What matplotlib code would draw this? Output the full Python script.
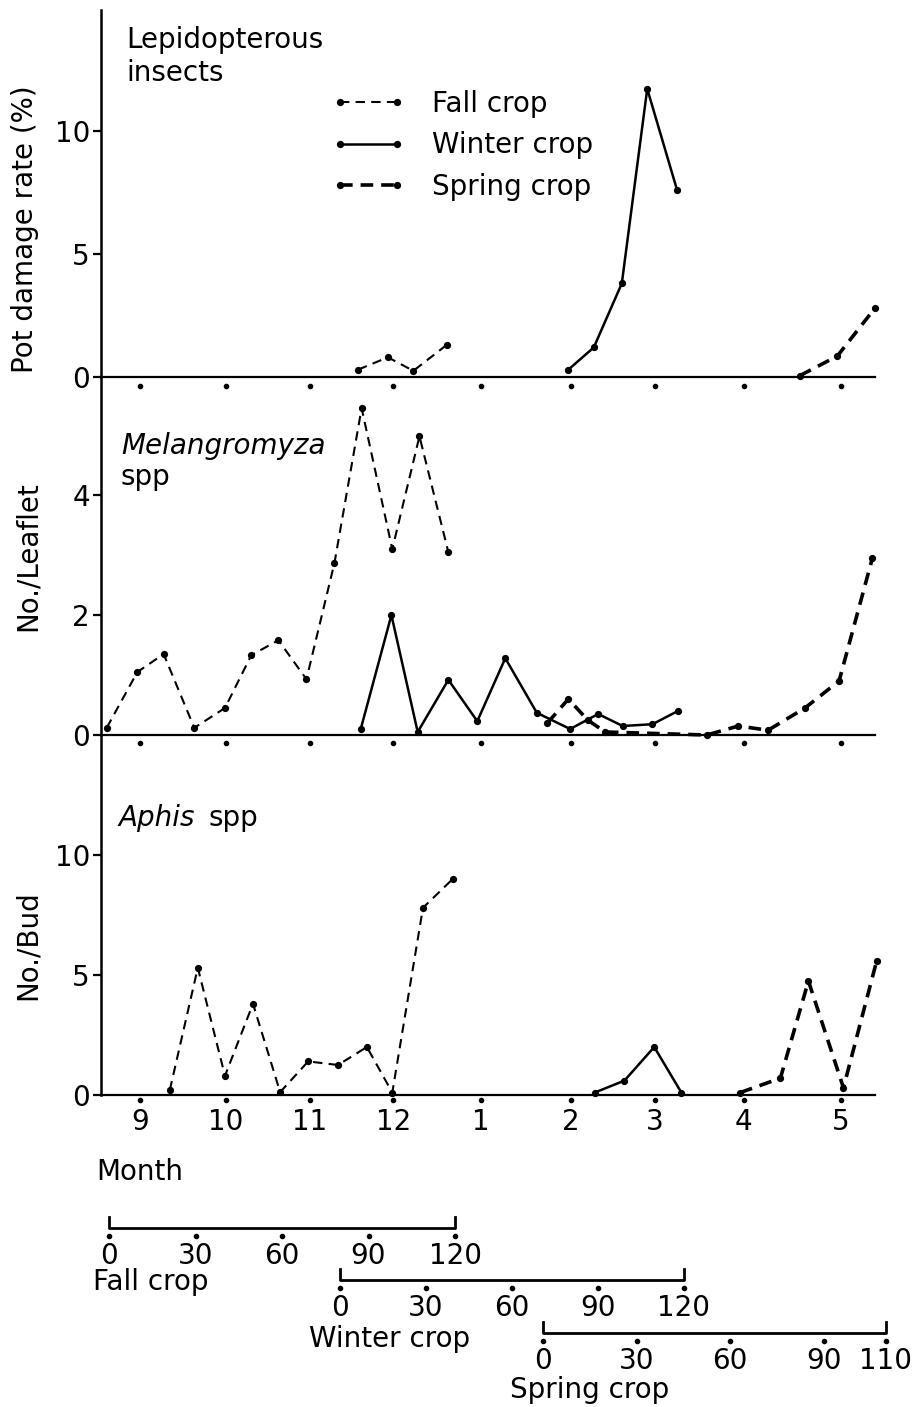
import matplotlib
matplotlib.use("Agg")
import matplotlib.pyplot as plt
from matplotlib.lines import Line2D

W, H = 924, 1407
plt.rcParams['font.family'] = ['DejaVu Sans']

# ---------------- data (x = month index: 0 = Sep, 1 = Oct, ... 8 = May) ----------------
month_pos = [0, 0.98, 1.94, 2.89, 3.89, 4.92, 5.88, 6.89, 8.0]
month_labels = ['9', '10', '11', '12', '1', '2', '3', '4', '5']

# Lepidopterous insects: pot damage rate (%)
lep_fall_x = [2.49, 2.83, 3.12, 3.50]
lep_fall_y = [0.3, 0.8, 0.25, 1.3]
lep_winter_x = [4.89, 5.18, 5.50, 5.79, 6.13]
lep_winter_y = [0.3, 1.2, 3.8, 11.7, 7.6]
lep_spring_x = [7.53, 7.96, 8.39]
lep_spring_y = [0.05, 0.85, 2.8]

# Melangromyza spp: No./Leaflet
mel_fall_x = [-0.38, -0.03, 0.27, 0.62, 0.97, 1.27, 1.58, 1.90, 2.22, 2.53, 2.88, 3.19, 3.52]
mel_fall_y = [0.12, 1.05, 1.35, 0.12, 0.45, 1.33, 1.58, 0.93, 2.87, 5.45, 3.1, 4.98, 3.05]
mel_winter_x = [2.52, 2.87, 3.17, 3.52, 3.85, 4.17, 4.53, 4.91, 5.23, 5.51, 5.85, 6.14]
mel_winter_y = [0.1, 2.0, 0.05, 0.92, 0.23, 1.28, 0.37, 0.1, 0.35, 0.15, 0.18, 0.4]
mel_spring_x = [4.65, 4.89, 5.11, 5.31, 6.47, 6.83, 7.17, 7.59, 7.98, 8.36]
mel_spring_y = [0.2, 0.6, 0.25, 0.05, 0.0, 0.15, 0.08, 0.45, 0.9, 2.95]

# Aphis spp: No./Bud
aph_fall_x = [0.34, 0.66, 0.97, 1.29, 1.60, 1.92, 2.26, 2.59, 2.88, 3.23, 3.57]
aph_fall_y = [0.2, 5.3, 0.8, 3.8, 0.12, 1.4, 1.25, 2.0, 0.1, 7.8, 9.0]
aph_winter_x = [5.19, 5.53, 5.87, 6.18]
aph_winter_y = [0.1, 0.6, 2.0, 0.1]
aph_spring_x = [6.85, 7.31, 7.63, 8.03, 8.41]
aph_spring_y = [0.1, 0.7, 4.75, 0.3, 5.6]

# crop-age scales (days)
fall_days = [0, 30, 60, 90, 120]
winter_days = [0, 30, 60, 90, 120]
spring_days = [0, 30, 60, 90, 110]

# ---------------- styles ----------------
FS = 20
fall_style = dict(color='black', lw=1.5, ls=(0, (4.5, 3)), marker='o', ms=4.2)
winter_style = dict(color='black', lw=1.8, ls='-', marker='o', ms=4.2)
spring_style = dict(color='black', lw=2.6, ls=(0, (3.5, 2.2)), marker='o', ms=4.2)

fig = plt.figure(figsize=(W / 100, H / 100), dpi=100)


def fx(px):
    return px / W


def fy(py):
    return 1 - py / H


def make_ax(top_px, bot_px):
    left, right = 101, 875
    return fig.add_axes([fx(left), fy(bot_px), (right - left) / W, (bot_px - top_px) / H])


ax1 = make_ax(10, 377)
ax2 = make_ax(377, 735)
ax3 = make_ax(735, 1095)

xlim = (-0.445, 8.39)
for ax, ylim, ticks, dot in [(ax1, (0, 14.9), [0, 5, 10], -0.025),
                             (ax2, (0, 5.97), [0, 2, 4], -0.022),
                             (ax3, (0, 15.0), [0, 5, 10], -0.014)]:
    ax.set_xlim(*xlim)
    ax.set_ylim(*ylim)
    ax.set_yticks(ticks)
    ax.set_yticklabels([str(t) for t in ticks])
    ax.spines['top'].set_visible(False)
    ax.spines['right'].set_visible(False)
    ax.spines['left'].set_linewidth(1.8)
    ax.spines['bottom'].set_linewidth(1.6)
    ax.tick_params(axis='y', direction='out', length=6, width=1.6, pad=2, labelsize=FS)
    ax.set_facecolor('none')
    # month tick dots just below the zero line
    ax.plot(month_pos, [dot] * len(month_pos), 'k.', ms=6,
            transform=ax.get_xaxis_transform(), clip_on=False)

for ax in (ax1, ax2):
    ax.set_xticks([])
ax3.set_xticks(month_pos)
ax3.set_xticklabels(month_labels)
ax3.tick_params(axis='x', length=0, pad=9, labelsize=FS)

# series
ax1.plot(lep_fall_x, lep_fall_y, clip_on=False, **fall_style)
ax1.plot(lep_winter_x, lep_winter_y, clip_on=False, **winter_style)
ax1.plot(lep_spring_x, lep_spring_y, clip_on=False, **spring_style)

ax2.plot(mel_fall_x, mel_fall_y, clip_on=False, **fall_style)
ax2.plot(mel_winter_x, mel_winter_y, clip_on=False, **winter_style)
ax2.plot(mel_spring_x, mel_spring_y, clip_on=False, **spring_style)

ax3.plot(aph_fall_x, aph_fall_y, clip_on=False, **fall_style)
ax3.plot(aph_winter_x, aph_winter_y, clip_on=False, **winter_style)
ax3.plot(aph_spring_x, aph_spring_y, clip_on=False, **spring_style)

# legend
handles = [Line2D([], [], **fall_style), Line2D([], [], **winter_style), Line2D([], [], **spring_style)]
fig.legend(handles, ['Fall crop', 'Winter crop', 'Spring crop'], loc='upper left',
           bbox_to_anchor=(fx(332), fy(90)), frameon=False, fontsize=FS, numpoints=2,
           handlelength=2.65, handletextpad=0.95, labelspacing=0.48, borderpad=0, borderaxespad=0)

# panel titles
fig.text(fx(126), fy(40), 'Lepidopterous', fontsize=FS, va='center', ha='left')
fig.text(fx(126), fy(73), 'insects', fontsize=FS, va='center', ha='left')
fig.text(fx(121), fy(446), 'Melangromyza', fontsize=FS, style='italic', va='center', ha='left')
fig.text(fx(121), fy(477), 'spp', fontsize=FS, va='center', ha='left')
fig.text(fx(118), fy(818), 'Aphis', fontsize=FS, style='italic', va='center', ha='left')
fig.text(fx(208), fy(818), 'spp', fontsize=FS, va='center', ha='left')

# y labels
fig.text(fx(25), fy(229), 'Pot damage rate (%)', fontsize=FS, rotation=90, va='center', ha='center')
fig.text(fx(28), fy(556), 'No./Leaflet', fontsize=FS, rotation=90, va='center', ha='center')
fig.text(fx(28), fy(945), 'No./Bud', fontsize=FS, rotation=90, va='center', ha='center')

# month label
fig.text(fx(96), fy(1172), 'Month', fontsize=FS, va='center', ha='left')


# crop-age scales
def crop_scale(x0, x1, yline, days, name, name_x, name_y):
    sax = fig.add_axes([fx(x0), fy(yline), (x1 - x0) / W, 11 / H])
    sax.set_xlim(0, days[-1])
    sax.set_ylim(0, 1)
    for s in sax.spines.values():
        s.set_visible(False)
    sax.set_facecolor('none')
    sax.set_yticks([])
    sax.plot([0, 0, days[-1], days[-1]], [1, 0, 0, 1], color='black', lw=2, clip_on=False)
    sax.plot(days, [-0.75] * len(days), 'k.', ms=6, clip_on=False)
    sax.set_xticks(days)
    sax.set_xticklabels([str(d) for d in days])
    sax.tick_params(axis='x', length=0, pad=10, labelsize=FS)
    fig.text(fx(name_x), fy(name_y), name, fontsize=FS, va='center', ha='left')


crop_scale(109, 455, 1228, fall_days, 'Fall crop', 93, 1282)
crop_scale(340, 684, 1280, winter_days, 'Winter crop', 309, 1339)
crop_scale(543, 886, 1333, spring_days, 'Spring crop', 510, 1390)

fig.savefig('out.png', dpi=100)
